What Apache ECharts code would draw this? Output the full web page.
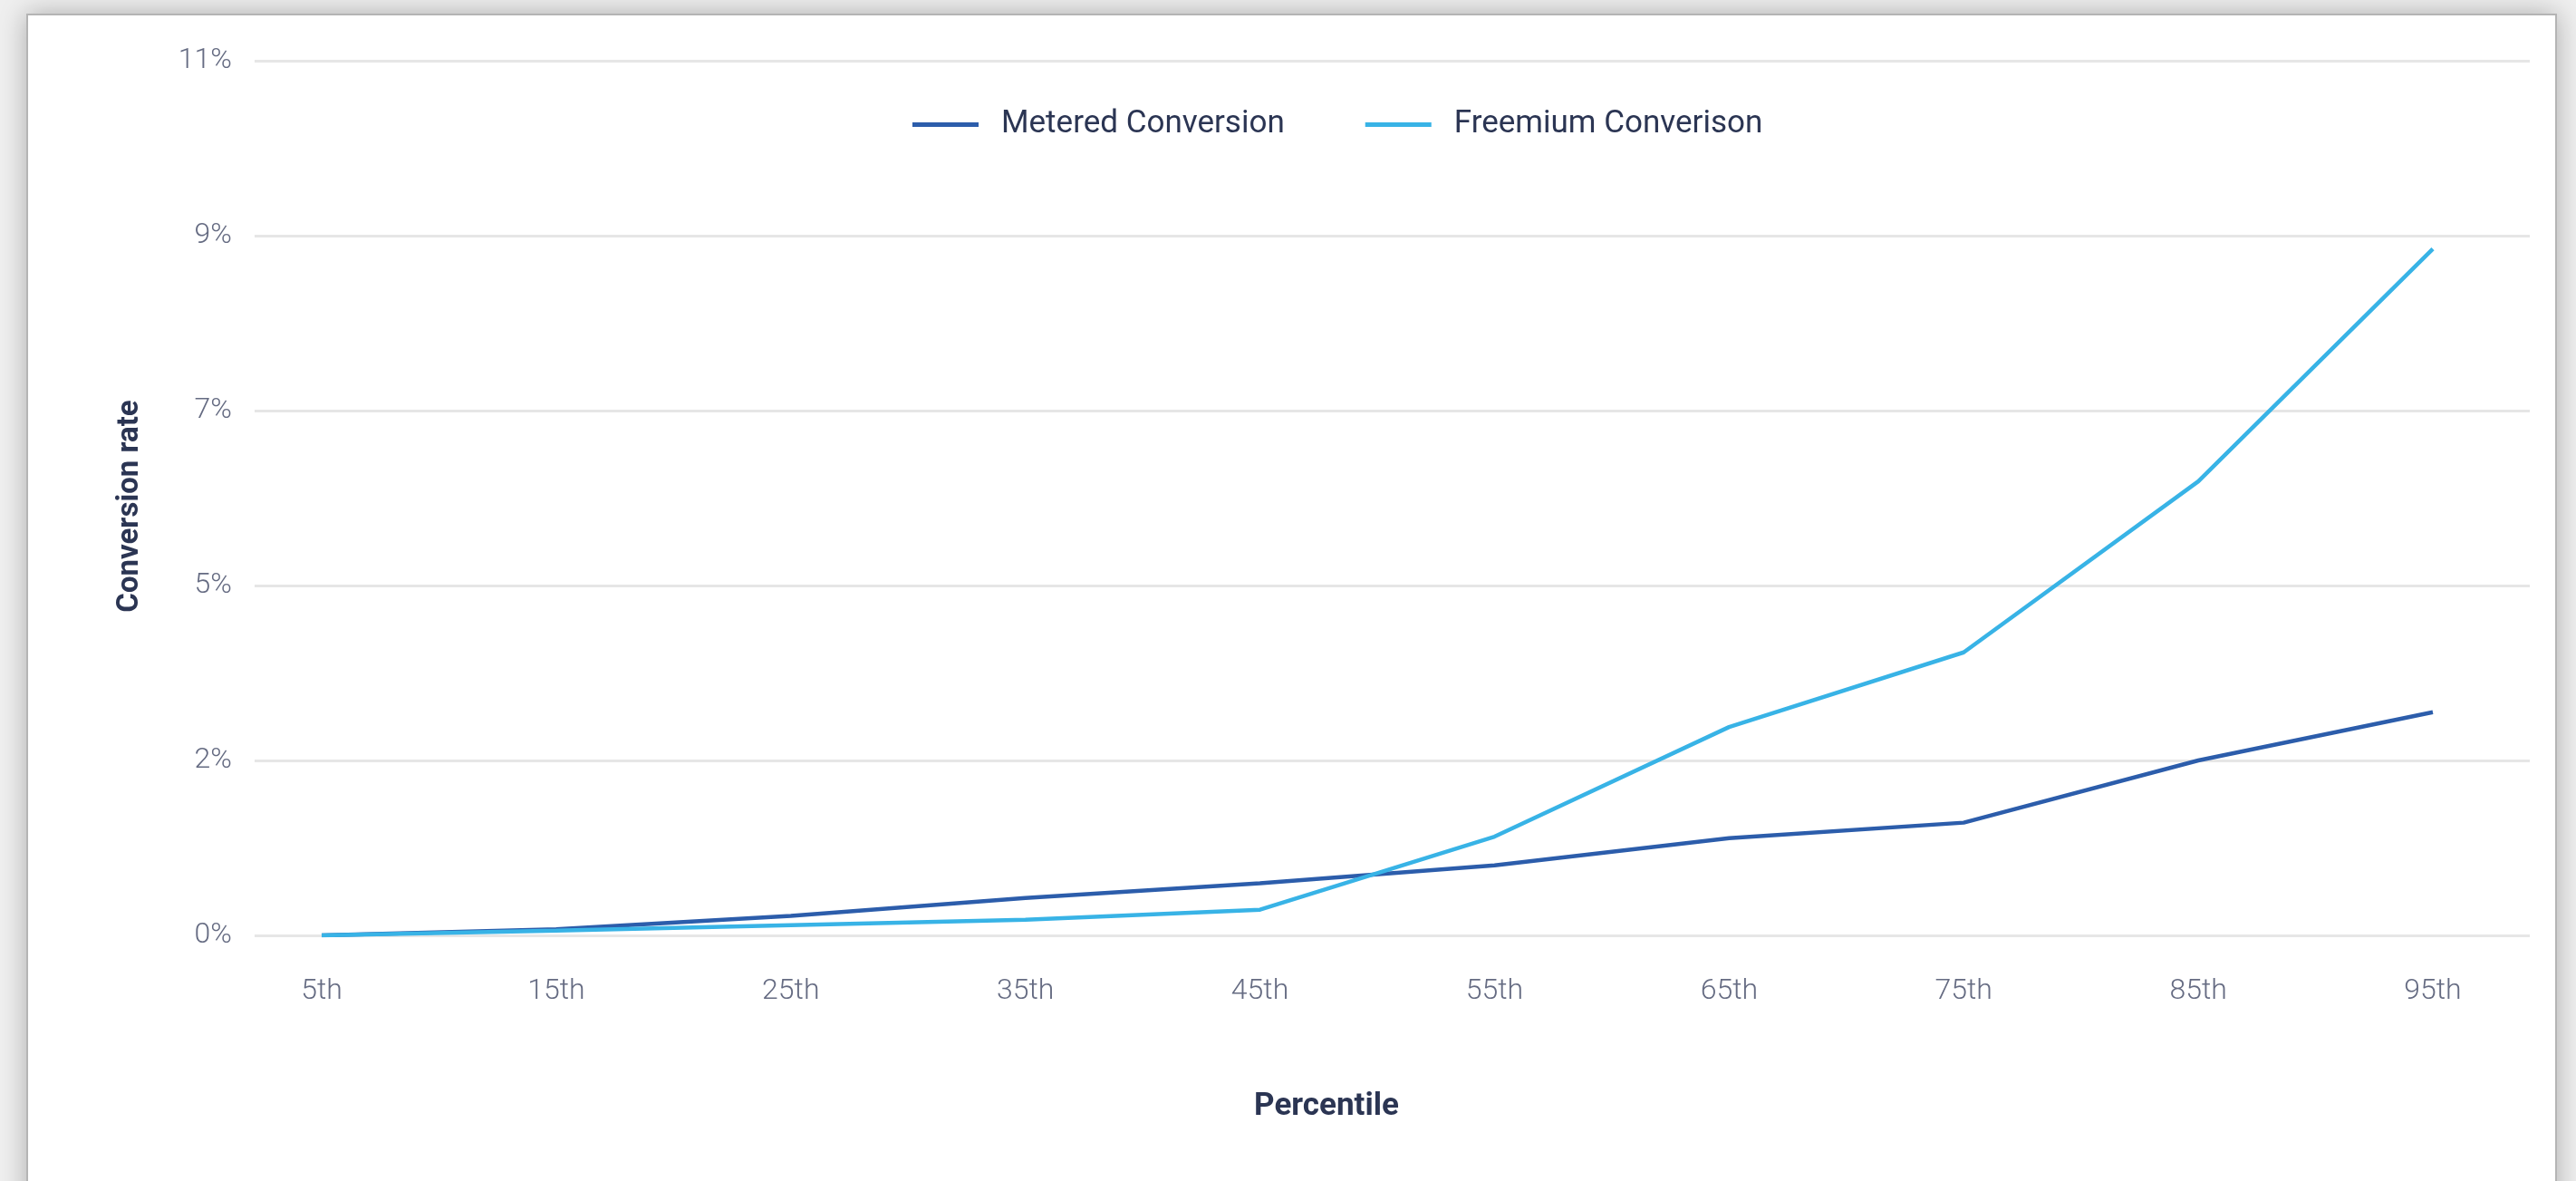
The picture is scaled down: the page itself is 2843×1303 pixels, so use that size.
<!DOCTYPE html>
<html>
<head>
<meta charset="utf-8">
<script src="https://cdn.jsdelivr.net/npm/echarts@6.0.0/dist/echarts.min.js"></script>
<style>
  html, body { margin: 0; padding: 0; width: 2843px; height: 1303px; overflow: hidden; background: #efefef; }
  #card {
    position: absolute; left: 29px; top: 15px; width: 2789px; height: 1400px;
    background: #fff; border: 2px solid #b4b4b4;
    box-shadow: 0 0 28px rgba(0, 0, 0, 0.28);
  }
  #chart { position: absolute; left: 0; top: 0; width: 2843px; height: 1303px; }
</style>
</head>
<body>
<div id="card"></div>
<div id="chart"></div>
<script>
// percentile buckets on the x axis
var percentiles = ['5th', '15th', '25th', '35th', '45th', '55th', '65th', '75th', '85th', '95th'];

// conversion rate in %
var meteredConversion = [0, 0.08, 0.25, 0.48, 0.67, 0.9, 1.25, 1.45, 2.25, 2.87];
var freemiumConversion = [0, 0.06, 0.13, 0.2, 0.33, 1.27, 2.68, 3.64, 5.84, 8.83];

// y tick labels as printed (ticks every 2.25%)
var yTickLabels = ['0%', '2%', '5%', '7%', '9%', '11%'];

// legend names as printed (typo kept)
var seriesNames = ['Metered Conversion', 'Freemium Converison'];

document.addEventListener("DOMContentLoaded", function() {

  var chartDom = document.getElementById('chart');
  var convChart = echarts.init(chartDom);
  var option;

  var navy = '#2b3553';
  var tickGrey = '#656b82';

  option = {
    animation: false,
    legend: {
      left: 1002,
      top: 115,
      icon: 'rect',
      itemWidth: 73,
      itemHeight: 5,
      itemGap: 89,
      textStyle: {
        fontFamily: 'Roboto',
        fontSize: 35,
        color: navy,
        padding: [0, 0, 0, 20]
      },
      data: seriesNames
    },
    grid: [
      // grid for the gridlines and y labels
      { left: 281, right: 51, top: 67, bottom: 271 },
      // grid for the lines themselves
      { left: 355, right: 158, top: 67, bottom: 271 }
    ],
    xAxis: [
      {
        gridIndex: 0,
        type: 'category',
        data: percentiles,
        show: false
      },
      {
        gridIndex: 1,
        type: 'category',
        data: percentiles,
        boundaryGap: false,
        axisLine: { show: false },
        axisTick: { show: false },
        axisLabel: {
          margin: 46,
          fontFamily: 'Roboto',
          fontWeight: 300,
          fontSize: 32,
          color: tickGrey
        },
        name: 'Percentile',
        nameLocation: 'middle',
        nameGap: 172,
        nameTextStyle: {
          fontFamily: 'Roboto',
          fontWeight: 'bold',
          fontSize: 35,
          color: navy,
          padding: [0, 112, 0, 0]
        }
      }
    ],
    yAxis: [
      {
        gridIndex: 0,
        type: 'value',
        min: 0,
        max: 11.25,
        interval: 2.25,
        axisLine: { show: false },
        axisTick: { show: false },
        axisLabel: {
          margin: 25,
          fontFamily: 'Roboto',
          fontWeight: 300,
          fontSize: 32,
          color: tickGrey,
          formatter: function(v, i) {
            return yTickLabels[i];
          }
        },
        splitLine: {
          lineStyle: { color: '#e6e6e6', width: 3 }
        },
        name: 'Conversion rate',
        nameLocation: 'middle',
        nameGap: 121,
        nameTextStyle: {
          fontFamily: 'Roboto',
          fontWeight: 'bold',
          fontSize: 33,
          color: navy,
          padding: [0, 18, 0, 0]
        }
      },
      {
        gridIndex: 1,
        type: 'value',
        min: 0,
        max: 11.25,
        interval: 2.25,
        show: false
      }
    ],
    series: [
      {
        name: seriesNames[0],
        type: 'line',
        xAxisIndex: 1,
        yAxisIndex: 1,
        symbol: 'none',
        data: meteredConversion,
        itemStyle: { color: '#2c5dab' },
        lineStyle: { color: '#2c5dab', width: 4.5 }
      },
      {
        name: seriesNames[1],
        type: 'line',
        xAxisIndex: 1,
        yAxisIndex: 1,
        symbol: 'none',
        data: freemiumConversion,
        itemStyle: { color: '#38b3e6' },
        lineStyle: { color: '#38b3e6', width: 4.5 }
      }
    ]
  };

  convChart.setOption(option);
});
</script>
</body>
</html>
